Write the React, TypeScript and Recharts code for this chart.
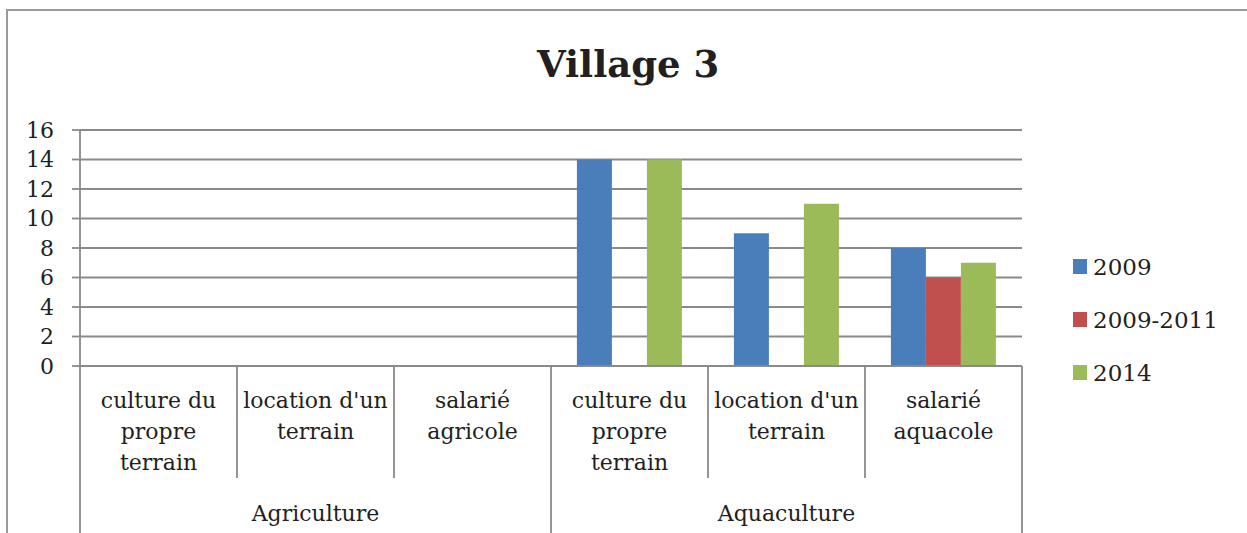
import React from "react";
import { BarChart, Bar, XAxis, YAxis, CartesianGrid } from "recharts";

// categories (line breaks as in the original labels)
const subLabels = [
  "culture du\npropre\nterrain",
  "location d'un\nterrain",
  "salarié\nagricole",
  "culture du\npropre\nterrain",
  "location d'un\nterrain",
  "salarié\naquacole",
];
const groups = ["Agriculture", "Agriculture", "Agriculture", "Aquaculture", "Aquaculture", "Aquaculture"];

const v2009 = [0, 0, 0, 14, 9, 8];
const v2009_2011 = [0, 0, 0, 0, 0, 6];
const v2014 = [0, 0, 0, 14, 11, 7];

const seriesNames = ["2009", "2009-2011", "2014"];
const seriesColors = ["#4a7ebb", "#c0504d", "#9bbb59"];
const yTicks = [0, 2, 4, 6, 8, 10, 12, 14, 16];

const data = subLabels.map((label, i) => ({
  label,
  group: groups[i],
  s0: v2009[i],
  s1: v2009_2011[i],
  s2: v2014[i],
}));

const W = 1247;
const H = 533;
const PLOT_LEFT = 80;
const PLOT_RIGHT = 1022;
const PLOT_TOP = 130;
const PLOT_BOTTOM = 366;
const BAND = (PLOT_RIGHT - PLOT_LEFT) / subLabels.length;
const FONT = "'DejaVu Serif', serif";
const GRID = "#8a8a8a";
const TEXT = "#231f20";
const FS = 22;

function CategoryTick(props: any) {
  const { x, y, payload, index } = props;
  const lines = String(payload.value).split("\n");
  const left = x - BAND / 2;
  const right = x + BAND / 2;
  const isGroupStart = index % 3 === 0;
  const isLast = index === subLabels.length - 1;
  const showGroup = index % 3 === 1;
  return (
    <g>
      <line x1={left} x2={left} y1={y} y2={isGroupStart ? H + 5 : y + 112} stroke={GRID} strokeWidth={1.8} />
      {isLast && <line x1={right} x2={right} y1={y} y2={H + 5} stroke={GRID} strokeWidth={1.8} />}
      {lines.map((ln, i) => (
        <text
          key={i}
          x={x}
          y={y + 34 + i * 31}
          textAnchor="middle"
          dominantBaseline="central"
          fontFamily={FONT}
          fontSize={FS}
          fill={TEXT}
        >
          {ln}
        </text>
      ))}
      {showGroup && (
        <text x={x} y={y + 147} textAnchor="middle" dominantBaseline="central" fontFamily={FONT} fontSize={FS} fill={TEXT}>
          {groups[index]}
        </text>
      )}
    </g>
  );
}

export default function App() {
  return (
    <div
      style={{
        position: "absolute",
        left: 0,
        top: 0,
        width: W,
        height: H,
        overflow: "hidden",
        background: "#fff",
      }}
    >
      <div
        style={{
          position: "absolute",
          left: 6,
          top: 9,
          width: W + 20,
          height: H + 20,
          border: "2px solid #9a9a9a",
        }}
      />
      <div
        style={{
          position: "absolute",
          left: 537,
          top: 38,
          fontFamily: FONT,
          fontWeight: "bold",
          fontSize: 37,
          color: TEXT,
          lineHeight: "52px",
          whiteSpace: "nowrap",
        }}
      >
        Village 3
      </div>
      <div style={{ position: "absolute", left: 0, top: 0 }}>
        <BarChart
          width={W}
          height={H}
          data={data}
          margin={{ top: PLOT_TOP, right: W - PLOT_RIGHT, bottom: 0, left: 0 }}
          barCategoryGap="16.5%"
          barGap={0}
        >
          <CartesianGrid vertical={false} stroke={GRID} strokeWidth={1.8} />
          <YAxis
            width={PLOT_LEFT}
            domain={[0, 16]}
            ticks={yTicks}
            interval={0}
            tickSize={8}
            tickMargin={18}
            axisLine={{ stroke: GRID, strokeWidth: 1.8 }}
            tickLine={{ stroke: GRID, strokeWidth: 1.8 }}
            tick={{ fill: TEXT, fontSize: FS, fontFamily: FONT }}
          />
          <XAxis
            dataKey="label"
            interval={0}
            height={H - PLOT_BOTTOM}
            tickSize={0}
            tickMargin={0}
            tickLine={false}
            axisLine={{ stroke: GRID, strokeWidth: 1.8 }}
            tick={<CategoryTick />}
          />
          {seriesNames.map((name, i) => (
            <Bar key={name} dataKey={`s${i}`} name={name} fill={seriesColors[i]} isAnimationActive={false} />
          ))}
        </BarChart>
      </div>
      <div style={{ position: "absolute", left: 1073, top: 253, fontFamily: FONT, fontSize: 23, color: TEXT }}>
        {seriesNames.map((name, i) => (
          <div key={name} style={{ display: "flex", alignItems: "center", height: 27, marginBottom: 26 }}>
            <span style={{ width: 14, height: 15, background: seriesColors[i], marginRight: 6, display: "inline-block" }} />
            <span>{name}</span>
          </div>
        ))}
      </div>
    </div>
  );
}
